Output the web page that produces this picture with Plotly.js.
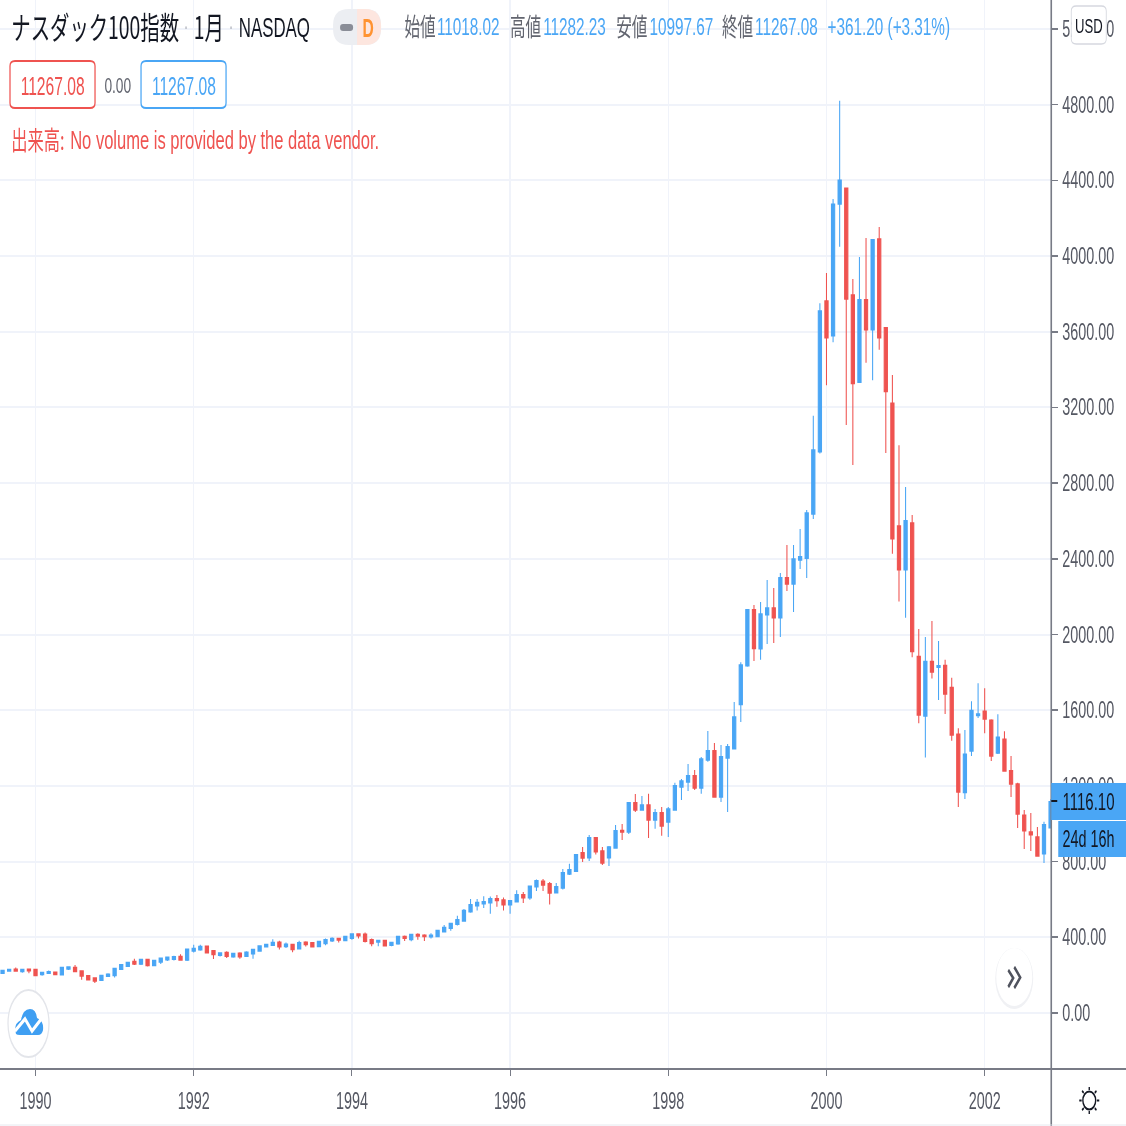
<!DOCTYPE html>
<html><head><meta charset="utf-8">
<script src="https://cdn.plot.ly/plotly-3.0.1.min.js"></script>
<style>html,body{margin:0;padding:0;background:#fff;overflow:hidden;width:1126px;height:1126px}
#g{width:1801.6px;height:1126px;transform:scaleX(.625);transform-origin:0 0;filter:blur(.35px)}</style>
</head><body><div id="g"></div>
<script>
const months=[
"1989-08","1989-09","1989-10","1989-11","1989-12",
"1990-01","1990-02","1990-03","1990-04","1990-05","1990-06","1990-07","1990-08","1990-09","1990-10","1990-11","1990-12",
"1991-01","1991-02","1991-03","1991-04","1991-05","1991-06","1991-07","1991-08","1991-09","1991-10","1991-11","1991-12",
"1992-01","1992-02","1992-03","1992-04","1992-05","1992-06","1992-07","1992-08","1992-09","1992-10","1992-11","1992-12",
"1993-01","1993-02","1993-03","1993-04","1993-05","1993-06","1993-07","1993-08","1993-09","1993-10","1993-11","1993-12",
"1994-01","1994-02","1994-03","1994-04","1994-05","1994-06","1994-07","1994-08","1994-09","1994-10","1994-11","1994-12",
"1995-01","1995-02","1995-03","1995-04","1995-05","1995-06","1995-07","1995-08","1995-09","1995-10","1995-11","1995-12",
"1996-01","1996-02","1996-03","1996-04","1996-05","1996-06","1996-07","1996-08","1996-09","1996-10","1996-11","1996-12",
"1997-01","1997-02","1997-03","1997-04","1997-05","1997-06","1997-07","1997-08","1997-09","1997-10","1997-11","1997-12",
"1998-01","1998-02","1998-03","1998-04","1998-05","1998-06","1998-07","1998-08","1998-09","1998-10","1998-11","1998-12",
"1999-01","1999-02","1999-03","1999-04","1999-05","1999-06","1999-07","1999-08","1999-09","1999-10","1999-11","1999-12",
"2000-01","2000-02","2000-03","2000-04","2000-05","2000-06","2000-07","2000-08","2000-09","2000-10","2000-11","2000-12",
"2001-01","2001-02","2001-03","2001-04","2001-05","2001-06","2001-07","2001-08","2001-09","2001-10","2001-11","2001-12",
"2002-01","2002-02","2002-03","2002-04","2002-05","2002-06","2002-07","2002-08","2002-09","2002-10","2002-11"];
const opens=[210,222,231,220,231,
229,204,211,215,203,233,240,222,196,185,173,194,
199,231,248,271,259,282,252,270,282,285,298,280,
328,335,352,328,305,319,298,315,300,314,328,351,
359,373,352,361,340,373,370,352,368,382,393,384,
395,417,416,386,375,382,358,366,403,389,414,410,
403,405,430,448,469,486,536,567,578,583,603,597,
573,588,624,610,668,696,682,636,661,735,750,846,
821,925,856,821,872,964,957,1110,1073,1099,1020,1057,
1010,1073,1195,1221,1253,1189,1337,1385,1142,1348,1397,1631,
1836,2130,1925,2105,2140,2089,2299,2267,2394,2404,2637,2966,
3762,3579,4275,4358,3794,3333,3768,3611,4090,3620,3222,2573,
2343,2589,1883,1570,1857,1827,1836,1719,1473,1165,1385,1573,
1594,1547,1374,1446,1279,1210,1045,956,930,842,980];
const highs=[226,230,240,230,234,
230,214,224,218,241,247,254,223,197,188,198,210,
235,256,271,287,283,283,278,290,299,303,310,337,
361,361,353,329,318,326,315,321,326,336,355,366,
389,382,372,366,382,379,373,380,393,400,398,404,
421,419,425,393,383,383,377,407,410,419,421,416,
421,439,465,473,514,550,603,603,617,615,624,610,
593,648,639,673,705,708,692,687,761,788,840,877,
941,930,877,883,994,999,1115,1157,1147,1158,1078,1089,
1089,1216,1237,1316,1284,1353,1490,1427,1416,1422,1644,1853,
2131,2156,2172,2288,2246,2325,2473,2473,2558,2658,3156,3750,
3910,4301,4821,4360,3878,3995,4095,4086,4153,3621,3371,3000,
2779,2631,2029,1987,2071,1966,1866,1772,1504,1496,1647,1742,
1716,1552,1578,1489,1358,1216,1073,1057,983,1010,1130];
const lows=[208,221,220,213,210,
198,197,208,203,202,227,218,176,173,159,172,190,
187,230,245,254,254,245,251,259,275,278,277,275,
319,329,318,285,298,291,292,287,298,287,324,347,
356,335,343,321,336,351,347,351,358,375,373,383,
387,393,373,352,352,351,352,361,380,379,387,380,
393,402,428,435,462,483,530,541,555,525,562,541,
525,587,581,599,645,645,573,634,652,729,747,798,
803,837,782,777,872,914,946,1062,1073,925,973,936,
930,1073,1126,1173,1179,1158,1327,1140,1115,1062,1394,1538,
1830,1860,1866,1950,1955,1987,2230,2119,2346,2299,2610,2957,
3317,3544,4049,3107,2896,3332,3436,3343,3505,2959,2427,2174,
2089,1880,1531,1350,1767,1654,1580,1438,1089,1131,1358,1559,
1478,1332,1369,1278,1142,978,867,856,825,793,975];
const closes=[224,229,222,229,224,
199,213,218,204,240,243,220,196,176,169,197,204,
234,255,266,259,282,252,277,289,294,296,280,336,
340,351,319,310,317,301,314,298,321,335,354,361,
372,351,363,336,370,363,351,377,387,393,386,403,
417,409,380,368,382,356,372,403,395,414,407,405,
410,435,451,472,492,541,571,583,587,603,595,573,
592,624,610,669,698,677,634,666,740,756,835,819,
925,853,793,877,962,957,1110,1073,1099,1020,1057,988,
1078,1200,1226,1253,1189,1342,1385,1142,1353,1406,1564,1839,
2130,1927,2108,2140,2089,2299,2267,2399,2410,2642,2975,3709,
3569,4273,4400,3773,3327,3768,3611,4085,3569,3285,2506,2343,
2600,1911,1575,1857,1802,1834,1686,1469,1168,1367,1598,1580,
1554,1358,1457,1279,1210,1052,964,943,830,994,1116];
const yTicks=[0,400,800,1200,1600,2000,2400,2800,3200,3600,4000,4400,4800,5200];
const xTickVals=["1990-01","1992-01","1994-01","1996-01","1998-01","2000-01","2002-01"];
const xTickText=["1990","1992","1994","1996","1998","2000","2002"];
const lastPrice="1116.10", countdown="24d 16h";

const BLUE="#4aa6f5",RED="#ef5350",GREY="#62656f",AXIS="#787b86",TICK="#555863",GRID="#f0f3fa";
const PW=1051,PH=1069;
const X=p=>p/PW, Y=p=>(PH-p)/PH;
const LAT='"Liberation Sans",Arial,sans-serif', CJK='"Noto Sans CJK JP","Liberation Sans",sans-serif';
const notes=[];
function T(x,y,text,size,color,anchor,fam){notes.push({xref:'paper',yref:'paper',x:X(x),y:Y(y),text,showarrow:false,
 xanchor:anchor||'left',yanchor:'middle',font:{size,color,family:fam||LAT},borderpad:0,borderwidth:0});}
const shapes=[];
function P(d,fill,line,w){shapes.push({type:'path',xref:'paper',yref:'paper',layer:'above',path:d,fillcolor:fill||'rgba(0,0,0,0)',line:{color:line||'rgba(0,0,0,0)',width:w||0}});}
function pt(x,y){return X(x)+','+Y(y);}
function RR(x0,y0,x1,y1,r,fill,line,w){const rx=r,ry=r;
 P(`M${pt(x0+rx,y0)} L${pt(x1-rx,y0)} Q${pt(x1,y0)} ${pt(x1,y0+ry)} L${pt(x1,y1-ry)} Q${pt(x1,y1)} ${pt(x1-rx,y1)} L${pt(x0+rx,y1)} Q${pt(x0,y1)} ${pt(x0,y1-ry)} L${pt(x0,y0+ry)} Q${pt(x0,y0)} ${pt(x0+rx,y0)} Z`,fill,line,w);}
function L(x0,y0,x1,y1,c,w){shapes.push({type:'line',xref:'paper',yref:'paper',layer:'above',x0:X(x0),x1:X(x1),y0:Y(y0),y1:Y(y1),line:{color:c,width:w}});}
function E(x0,y0,x1,y1,fill,line,w){shapes.push({type:'circle',xref:'paper',yref:'paper',layer:'above',x0:X(x0),x1:X(x1),y0:Y(y0),y1:Y(y1),fillcolor:fill,line:{color:line||'rgba(0,0,0,0)',width:w||0}});}

// frame lines
L(1051,0,1051,1126,AXIS,2.6);
L(0,1069,1126,1069,AXIS,2);
L(0,1125,1126,1125,"#e0e3eb",1);

// header
T(11,25,"ナスダック100指数",31,"#131722",'left',CJK);
T(186,27,"·",22,"#b2b5be",'center',LAT);
T(194,25,"1月",31,"#131722",'left',CJK);
T(231,27,"·",22,"#b2b5be",'center',LAT);
T(239,28,"NASDAQ",27,"#131722",'left',LAT);
// status pill
RR(333,9,381,45,16,"#eceef2");
P(`M${pt(357,9)} L${pt(365,9)} Q${pt(381,9)} ${pt(381,27)} Q${pt(381,45)} ${pt(365,45)} L${pt(357,45)} Z`,"#fde6df");
RR(340,24,353,31,3,"#8a8d97");
T(368,28,"<b>D</b>",25,"#ff9331",'center',LAT);
// OHLC row
const row=[[404,"始値",GREY,CJK],[437,"11018.02",BLUE,LAT],[510,"高値",GREY,CJK],[543,"11282.23",BLUE,LAT],[616,"安値",GREY,CJK],[649,"10997.67",BLUE,LAT],[722,"終値",GREY,CJK],[755,"11267.08",BLUE,LAT],[827,"+361.20 (+3.31%)",BLUE,LAT]];
row.forEach(r=>T(r[0],r[3]===CJK?25:27,r[1],r[3]===CJK?25:24.5,r[2],'left',r[3]));
// price boxes
RR(10,61,95,108,5,"#fff",RED,2);
T(52.5,86,"11267.08",25,RED,'center',LAT);
T(118,85,"0.00",22,GREY,'center',LAT);
RR(141,61,226,108,5,"#fff",BLUE,2);
T(183.5,86,"11267.08",25,BLUE,'center',LAT);
// volume note
T(11,138,"出来高:",26,RED,'left',CJK);
T(70,140,"No volume is provided by the data vendor.",26.5,RED,'left',LAT);
// USD
RR(1071,6,1106,44,5,"#fff","#d6d8df",1.4);
T(1088.5,25,"USD",21,"#131722",'center',LAT);
// price labels
shapes.push({type:'rect',xref:'paper',yref:'paper',layer:'above',x0:X(1051),x1:X(1126),y0:Y(783),y1:Y(820),fillcolor:BLUE,line:{width:0}});
shapes.push({type:'rect',xref:'paper',yref:'paper',layer:'above',x0:X(1058),x1:X(1126),y0:Y(821),y1:Y(857),fillcolor:BLUE,line:{width:0}});
L(1051,801,1057,801,"#131722",2);
T(1088,801,lastPrice,24,"#131722",'center',LAT);
T(1088,839,countdown,23,"#131722",'center',LAT);
// scroll button
E(995,948,1033,1009,"#f0f1f4");
E(996,948,1032,1006,"#fff");
P(`M${pt(1008,970)} L${pt(1013,978)} L${pt(1008,987)}`,null,"#50535e",3.4);
P(`M${pt(1014,967)} L${pt(1020,977.5)} L${pt(1014,988)}`,null,"#50535e",3.4);
// logo
E(8,990,49,1057,"#fff","#e3e5ea",2);
P(`M${pt(16,1034)} Q${pt(13,1024)} ${pt(21,1020)} Q${pt(23,1009)} ${pt(30,1009)} Q${pt(36,1009)} ${pt(37,1018)} Q${pt(44,1021)} ${pt(43,1030)} Q${pt(42,1035)} ${pt(38,1035)} L${pt(20,1035)} Q${pt(17,1035)} ${pt(16,1034)} Z`,"#3f9ff2");
P(`M${pt(15,1031)} L${pt(25,1019)} L${pt(32,1031)} L${pt(42,1018)}`,null,"#fff",4);
// sun icon
E(1082.6,1091.5,1095.4,1109.5,"#fff","#131722",2.2);
[[0,-1],[0,1],[1,0],[-1,0],[.72,-.72],[-.72,-.72],[.72,.72],[-.72,.72]].forEach(d=>{
 const cx=1089,cy=1100.5; L(cx+d[0]*7.6,cy+d[1]*10.5,cx+d[0]*10,cy+d[1]*13.5,"#131722",2.2);});

const trace={type:'candlestick',x:months,open:opens,high:highs,low:lows,close:closes,
 increasing:{line:{color:BLUE,width:1.7},fillcolor:BLUE},
 decreasing:{line:{color:RED,width:1.7},fillcolor:RED},whiskerwidth:0,hoverinfo:'skip',showlegend:false};
const layout={width:1801.6,height:1126,margin:{l:0,r:120,t:0,b:57,pad:0},paper_bgcolor:'#fff',plot_bgcolor:'#fff',
 boxmode:'overlay',boxgap:.3,showlegend:false,shapes,annotations:notes,dragmode:false,
 xaxis:{type:'category',categoryorder:'array',categoryarray:months,range:[-0.387,159.1],rangeslider:{visible:false},
  tickmode:'array',tickvals:xTickVals,ticktext:xTickText,ticks:'outside',ticklen:6,tickwidth:1.6,tickcolor:AXIS,
  tickfont:{size:23,color:TICK,family:LAT},showgrid:true,gridcolor:GRID,gridwidth:2.4,zeroline:false,showline:false,ticklabelstandoff:5,fixedrange:true},
 yaxis:{side:'right',range:[-296,5353],tickmode:'array',tickvals:yTicks,ticktext:yTicks.map(v=>v.toFixed(2)),ticks:'outside',ticklen:10,tickwidth:1.6,tickcolor:AXIS,
  tickfont:{size:23,color:TICK,family:LAT},ticklabelstandoff:2,showgrid:true,gridcolor:GRID,gridwidth:2,zeroline:false,showline:false,fixedrange:true}};
Plotly.newPlot('g',[trace],layout,{displayModeBar:false,staticPlot:true,responsive:false});
</script></body></html>
